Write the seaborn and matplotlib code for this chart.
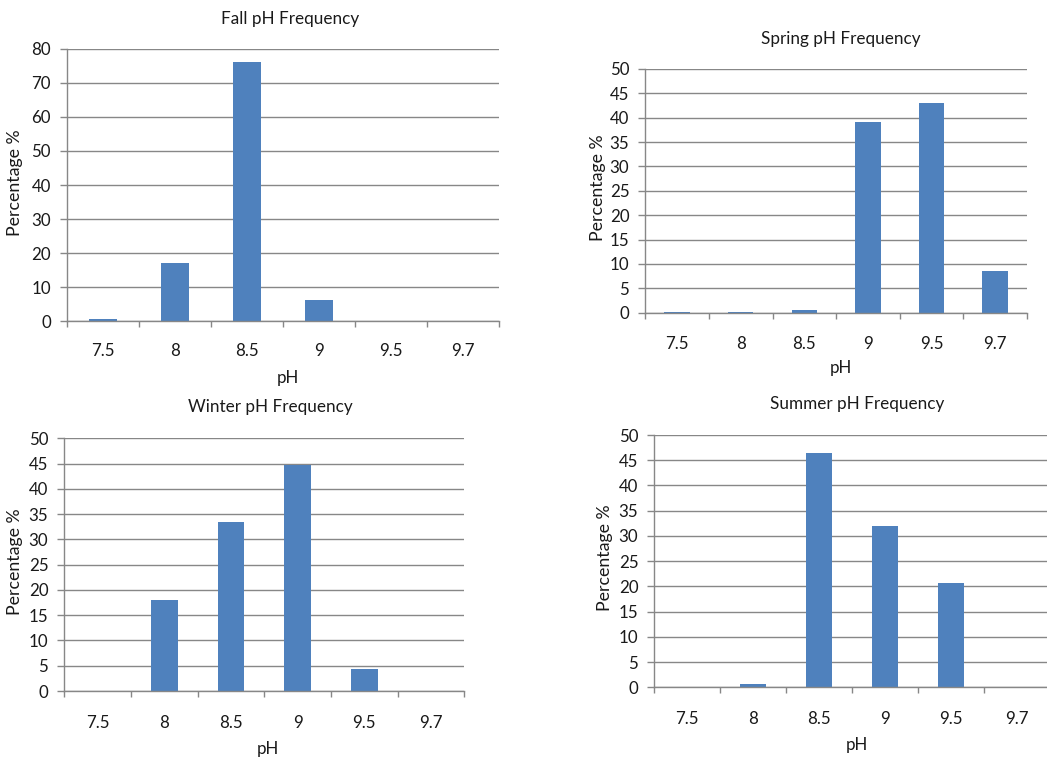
import matplotlib
matplotlib.use("Agg")
import matplotlib.pyplot as plt
from matplotlib.ticker import FixedLocator
import numpy as np
import pandas as pd
import seaborn as sns

# pH classes shared by every season
ph_classes = ["7.5", "8", "8.5", "9", "9.5", "9.7"]

# Percentage of samples in each pH class, per season
fall_pct = [0.7, 17.2, 76.3, 6.1, 0.0, 0.0]
spring_pct = [0.15, 0.15, 0.5, 39.1, 43.0, 8.55]
winter_pct = [0.0, 18.0, 33.4, 44.7, 4.35, 0.0]
summer_pct = [0.0, 0.6, 46.4, 32.0, 20.7, 0.0]

titles = ["Fall pH Frequency", "Spring pH Frequency",
          "Winter pH Frequency", "Summer pH Frequency"]
y_max = [80, 50, 50, 50]
y_step = [10, 5, 5, 5]

sns.set_theme(style="white")
plt.rcParams["font.family"] = ["Lato", "DejaVu Sans"]

W, H = 1047, 759
DPI = 100
BAR = "#4F81BD"
GRID = "#878787"
TXT = "#1a1a1a"

fig = plt.figure(figsize=(W / DPI, H / DPI), dpi=DPI)
fig.patch.set_facecolor("white")

# Panel geometry in pixels: left, top, right, bottom of the plot area
boxes = [
    (67, 49, 499, 321),
    (645.3, 69, 1027, 312.7),
    (64.3, 438.3, 464.3, 691),
    (654.3, 435, 1050.3, 687.3),
]
# Pixel anchors: title (x, y), y-label (x, y), x-label (x, y), tick label centre y
title_pos = [(290, 19), (841, 39), (270, 407), (857, 404)]
ylab_pos = [(15, 183), (598, 188), (15, 562), (605, 558)]
xlab_pos = [(288, 378), (841, 368), (268, 749), (857, 745)]
tick_y = [350, 343, 722, 718]

series = [fall_pct, spring_pct, winter_pct, summer_pct]


def px_to_axes(ax, x, y):
    disp = (x * DPI / 100.0, (H - y) * DPI / 100.0)
    return ax.transAxes.inverted().transform(disp)


for i, vals in enumerate(series):
    l, t, r, b = boxes[i]
    ax = fig.add_axes([l / W, 1 - b / H, (r - l) / W, (b - t) / H])
    df = pd.DataFrame({"pH": ph_classes, "pct": vals})
    sns.barplot(data=df, x="pH", y="pct", color=BAR, width=0.4,
                saturation=1, ax=ax, order=ph_classes, linewidth=0)

    ax.set_xlim(-0.5, len(ph_classes) - 0.5)
    ax.set_ylim(0, y_max[i])
    ax.set_yticks(np.arange(0, y_max[i] + 0.1, y_step[i]))
    ax.set_axisbelow(True)
    ax.yaxis.grid(True, color=GRID, linewidth=1.0)
    ax.xaxis.grid(False)

    for side in ("top", "right"):
        ax.spines[side].set_visible(False)
    for side in ("left", "bottom"):
        ax.spines[side].set_color(GRID)
        ax.spines[side].set_linewidth(1.0)

    # Category ticks sit between bars; labels sit under bar centres
    ax.xaxis.set_minor_locator(FixedLocator(np.arange(-0.5, len(ph_classes), 1.0)))
    ax.tick_params(axis="x", which="minor", length=4, width=1.0, color=GRID,
                   direction="out", bottom=True)
    gap_px = tick_y[i] - b - 7
    ax.tick_params(axis="x", which="major", length=0, pad=gap_px * 72 / DPI,
                   labelsize=12.2, labelcolor=TXT, bottom=True)
    ax.tick_params(axis="y", which="major", length=5, width=1.0, color=GRID,
                   direction="out", pad=6.5, labelsize=12.2, labelcolor=TXT,
                   left=True)

    tx, ty = px_to_axes(ax, *title_pos[i])
    ax.set_title(titles[i], fontsize=12.3, color=TXT, y=ty, va="center", pad=0)
    ax.title.set_x(tx)

    ax.set_xlabel("pH", fontsize=12.2, color=TXT)
    ax.xaxis.set_label_coords(*px_to_axes(ax, *xlab_pos[i]))
    ax.xaxis.label.set_verticalalignment("center")

    ax.set_ylabel("Percentage %", fontsize=12.8, color=TXT)
    ax.yaxis.set_label_coords(*px_to_axes(ax, *ylab_pos[i]))
    ax.yaxis.label.set_verticalalignment("center")

fig.savefig("out.png", dpi=DPI, facecolor="white")
